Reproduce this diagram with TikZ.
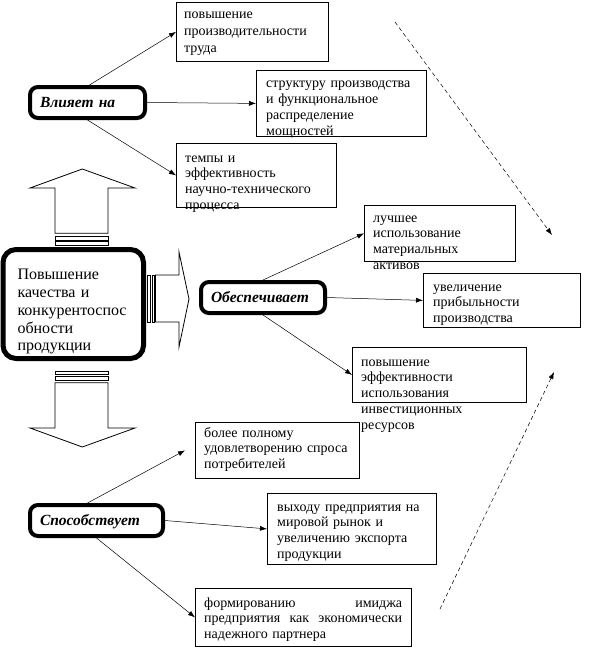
\documentclass[tikz,border=0pt]{standalone}
\usepackage{fontspec}
\setmainfont{Liberation Serif}
\usetikzlibrary{arrows.meta,calc}
\tikzset{
  infobox/.style={draw, line width=0.8pt, inner sep=0pt, anchor=north west},
  infotext/.style={anchor=base west, inner sep=0pt, text width=165pt, align=left,
                   font=\fontsize{14}{15.8}\selectfont},
  actbox/.style={draw, line width=4pt, rounded corners=8pt, inner ysep=0pt, inner xsep=10pt,
                 minimum height=31pt, align=left, text height=10.5pt, text depth=0pt,
                 font=\fontsize{15.5}{17}\selectfont\bfseries\itshape},
  mainbox/.style={draw, line width=5pt, rounded corners=13pt, inner ysep=0pt, inner xsep=14.5pt,
                  text width=111.5pt, minimum height=109pt, align=left,
                  font=\fontsize{16}{17.75}\selectfont},
  blockarrow/.style={draw, line width=0.8pt, fill=white},
  link/.style={-{Latex[length=7pt,width=5pt]}, line width=0.5pt},
  hint/.style={link, dash pattern=on 4pt off 3pt},
}

\begin{document}
\begin{tikzpicture}[x=1pt,y=-1pt]
    \fill[white] (0,0) rectangle (589,661);
    \useasboundingbox (0,0) rectangle (589,661);
    \node[infobox, minimum width=152pt, minimum height=59pt] (b1) at (176,2) {};
    \node[infobox, minimum width=170pt, minimum height=66pt] (b2) at (256,70) {};
    \node[infobox, minimum width=160pt, minimum height=64pt] (b3) at (176,143) {};
    \node[infobox, minimum width=151pt, minimum height=56pt] (b4) at (364,205) {};
    \node[infobox, minimum width=157pt, minimum height=54pt] (b5) at (423,273) {};
    \node[infobox, minimum width=174pt, minimum height=55pt] (b6) at (352,347) {};
    \node[infobox, minimum width=164pt, minimum height=56pt] (b7) at (195,422) {};
    \node[infobox, minimum width=169pt, minimum height=71pt] (b8) at (267,493) {};
    \node[infobox, minimum width=216pt, minimum height=58pt] (b9) at (195,588) {};
    \node[infotext, font=\fontsize{14}{17}\selectfont] (t1) at (184,19) {повышение\\производительности\\труда};
    \node[infotext] (t2) at (266,88) {структуру производства\\и функциональное\\распределение\\мощностей};
    \node[infotext] (t3) at (185,162) {темпы и\\эффективность\\научно-технического\\процесса};
    \node[infotext] (t4) at (373,222) {лучшее\\использование\\материальных\\активов};
    \node[infotext] (t5) at (433,291) {увеличение\\прибыльности\\производства};
    \node[infotext] (t6) at (361,366) {повышение\\эффективности\\использования\\инвестиционных\\ресурсов};
    \node[infotext] (t7) at (204,437) {более полному\\удовлетворению спроса\\потребителей};
    \node[infotext] (t8) at (277,511) {выходу предприятия на\\мировой рынок и\\увеличению экспорта\\продукции};
    \node[infotext, text width=198pt] (t9) at (204,607) {формированию\hfill имиджа\\предприятия\hfill как\hfill экономически\\надежного партнера};
    \node[actbox, text width=95pt] (vl) at (87.5,102.5) {Влияет на};
    \node[actbox, text width=104pt] (ob) at (263,297.5) {Обеспечивает};
    \node[actbox, text width=113pt] (sp) at (96.5,520.5) {Способствует};
    \node[mainbox] (qc) at (73.25,304) {\rule{0pt}{26pt}Повышение\\качества и\\конкурентоспос\\обности\\продукции};
    \draw[blockarrow] (55,236.7) rectangle (108,240);
    \draw[blockarrow] (55,241.7) rectangle (108,245.3);
    \draw[blockarrow] (55,233.3) -- (55,188) -- (30,188) -- (82.3,169) -- (135,188) -- (108,188) -- (108,233.3) -- cycle;
    \draw[blockarrow] (55,371.7) rectangle (108,374);
    \draw[blockarrow] (55,376.7) rectangle (108,380.7);
    \draw[blockarrow] (55,382.7) -- (55,428) -- (30,428) -- (82.3,447) -- (135,428) -- (108,428) -- (108,382.7) -- cycle;
    \draw[blockarrow] (147.5,275) rectangle (150.5,322);
    \draw[blockarrow] (152,275) rectangle (154,322);
    \draw[blockarrow] (155.5,275) -- (179,275) -- (179,252) -- (189,299) -- (179,347) -- (179,322) -- (155.5,322) -- cycle;
    \draw[link] ([xshift=2pt]vl.north) -- (b1.west);
    \draw[link] (vl.east) -- (b2.west);
    \draw[link] (vl.south) -- (b3.west);
    \draw[link] (ob.north) -- (b4.west);
    \draw[link] (ob.east) -- (b5.west);
    \draw[link] (ob.south) -- (b6.west);
    \draw[link] ([xshift=-9pt]sp.north) -- ([xshift=-10pt]b7.west);
    \draw[link] (sp.east) -- (b8.west);
    \draw[link] (sp.south) -- (b9.west);
    \coordinate (d1a) at (395,22);
    \coordinate (d1b) at (552,235);
    \coordinate (d2a) at (440,609);
    \coordinate (d2b) at (554,372);
    \draw[hint] (d1a) -- (d1b);
    \draw[hint] (d2a) -- (d2b);
  \end{tikzpicture}
\end{document}
